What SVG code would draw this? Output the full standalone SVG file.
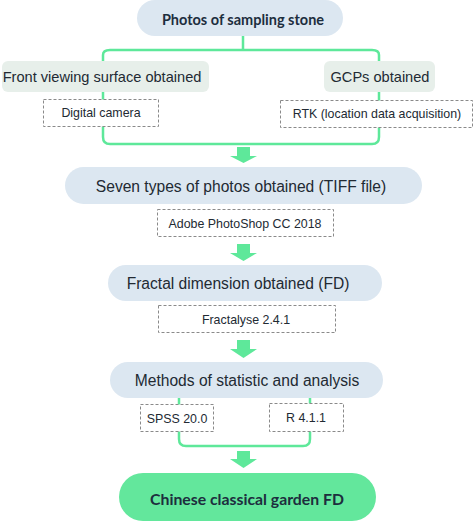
<svg xmlns="http://www.w3.org/2000/svg" width="474" height="521" viewBox="0 0 474 521">
<defs>
<style>
.blue{fill:#dce7f1;}
.grey{fill:#e7efea;}
.fin{fill:#63e79c;}
.dash{fill:#ffffff;stroke:#8a8a8a;stroke-width:1;stroke-dasharray:3,2;}
.line{fill:none;stroke:#5ee89a;stroke-width:2.5;}
.arrow{fill:#5ee89a;}
.t{font-family:"Liberation Sans",Arial,sans-serif;fill:#222a33;text-anchor:middle;dominant-baseline:central;}
.b{font-family:Lato,"Open Sans",sans-serif;font-weight:bold;fill:#1d2e3e;text-anchor:middle;dominant-baseline:central;}
.s{font-size:12.4px;}
.m{font-size:14.6px;}
.l{font-size:15.6px;}
.bm{font-size:14.5px;}
.bl{font-size:15.8px;}
</style>
</defs>
<g id="connectors">
<path class="line" d="M243,36 V50 M103,62 V55 Q103,50 110,50 H372 Q379,50 379,55 V62"/>
<path class="line" d="M103,92 V137 Q103,144 110,144 H372 Q379,144 379,137 V92"/>
<path class="line" d="M179,398 V439 Q179,446 186,446 H303 Q310,446 310,439 V398"/>
<polygon class="arrow" points="237,147 250,147 250,156 257,156 243.5,163 230,156 237,156"/>
<polygon class="arrow" points="237,244 250,244 250,253 257,253 243.5,261 230,253 237,253"/>
<polygon class="arrow" points="237,340 250,340 250,349 257,349 243.5,358 230,349 237,349"/>
<polygon class="arrow" points="237,451 250,451 250,459 257,459 243.5,468 230,459 237,459"/>
</g>
<g id="n-photos">
<rect class="blue" x="137" y="0" width="206" height="36" rx="18"/>
<text class="b bm" x="243" y="19">Photos of sampling stone</text>
</g>
<g id="n-front">
<rect class="grey" x="2" y="61" width="207" height="31" rx="6"/>
<text class="t m" x="102" y="77">Front viewing surface obtained</text>
</g>
<g id="n-gcps">
<rect class="grey" x="324" y="61" width="111" height="31" rx="6"/>
<text class="t m" x="380" y="77">GCPs obtained</text>
</g>
<g id="n-camera">
<rect class="dash" x="43.5" y="99.5" width="115" height="27"/>
<text class="t s" x="101" y="113">Digital camera</text>
</g>
<g id="n-rtk">
<rect class="dash" x="280.5" y="100.5" width="192" height="27"/>
<text class="t s" x="377" y="114">RTK (location data acquisition)</text>
</g>
<g id="n-seven">
<rect class="blue" x="65" y="167" width="357" height="37" rx="18.5"/>
<text class="t l" x="241" y="186">Seven types of photos obtained (TIFF file)</text>
</g>
<g id="n-ps">
<rect class="dash" x="157.5" y="209.5" width="176" height="27"/>
<text class="t s" x="245" y="224">Adobe PhotoShop CC 2018</text>
</g>
<g id="n-fd">
<rect class="blue" x="108" y="265" width="274" height="36" rx="18"/>
<text class="t l" x="238" y="283">Fractal dimension obtained (FD)</text>
</g>
<g id="n-fractalyse">
<rect class="dash" x="158.5" y="305.5" width="177" height="27"/>
<text class="t s" x="246" y="320">Fractalyse 2.4.1</text>
</g>
<g id="n-methods">
<rect class="blue" x="110" y="362" width="273" height="36" rx="18"/>
<text class="t l" x="247" y="380">Methods of statistic and analysis</text>
</g>
<g id="n-spss">
<rect class="dash" x="140.5" y="404.5" width="73" height="27"/>
<text class="t s" x="177" y="419">SPSS 20.0</text>
</g>
<g id="n-r">
<rect class="dash" x="269.5" y="403.5" width="74" height="28"/>
<text class="t s" x="306" y="418">R 4.1.1</text>
</g>
<g id="n-final">
<rect class="fin" x="119" y="473" width="257" height="48" rx="24"/>
<text class="b bl" x="247" y="498">Chinese classical garden FD</text>
</g>
</svg>
